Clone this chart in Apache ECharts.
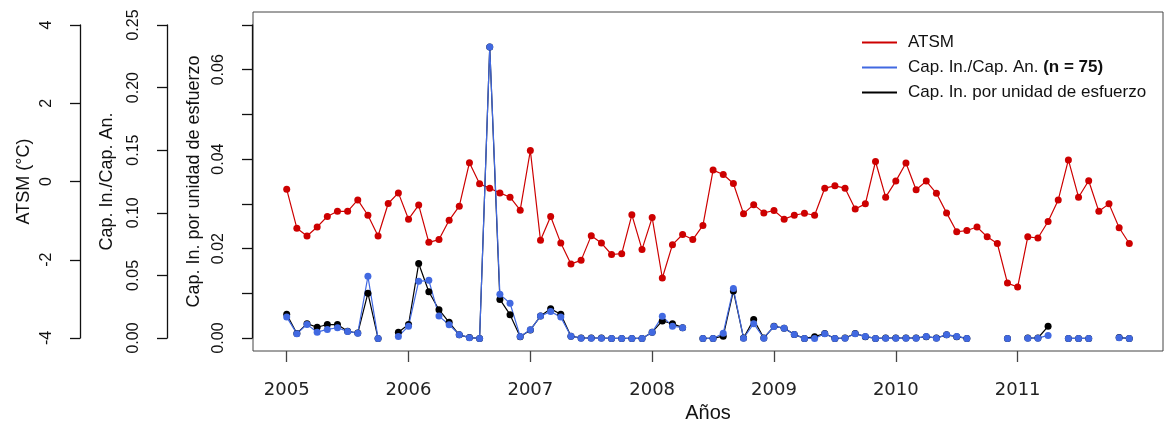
<!DOCTYPE html>
<html>
<head>
<meta charset="utf-8">
<script src="https://cdn.jsdelivr.net/npm/echarts@6/dist/echarts.min.js"></script>
<style>
  html, body { margin: 0; padding: 0; background: #fff; }
  #box { width: 1170px; height: 423px; }
</style>
</head>
<body>
<div id="box"></div>
<script>
// monthly series, Jan 2005 .. Dec 2011
var atsm = [
  -0.20, -1.19, -1.39, -1.16, -0.89, -0.76, -0.76, -0.47, -0.86, -1.39, -0.56, -0.29,
  -0.96, -0.60, -1.55, -1.48, -0.99, -0.63, 0.48, -0.06, -0.17, -0.29, -0.40, -0.73,
  0.79, -1.50, -0.89, -1.57, -2.10, -2.01, -1.38, -1.57, -1.86, -1.84, -0.85, -1.73,
  -0.92, -2.46, -1.61, -1.35, -1.48, -1.12, 0.29, 0.18, -0.05, -0.82, -0.59, -0.80,
  -0.74, -0.96, -0.86, -0.81, -0.86, -0.17, -0.11, -0.17, -0.70, -0.57, 0.51, -0.40,
  0.01, 0.47, -0.21, 0.01, -0.30, -0.80, -1.28, -1.25, -1.16, -1.41, -1.58, -2.59,
  -2.69, -1.41, -1.44, -1.02, -0.47, 0.55, -0.40, 0.02, -0.76, -0.57, -1.18, -1.58
];
var capRatio = [
  0.0170, 0.0038, 0.0112, 0.0050, 0.0072, 0.0085, 0.0056, 0.0042, 0.0495, 0, null, 0.0016,
  0.0098, 0.0455, 0.0463, 0.0178, 0.0109, 0.0030, 0.0006, 0, 0.2322, 0.0351, 0.0280, 0.0016,
  0.0069, 0.0178, 0.0214, 0.0170, 0.0018, 0.0002, 0.0002, 0.0002, 0, 0, 0, 0,
  0.0050, 0.0176, 0.0098, 0.0085, null, 0, 0, 0.0042, 0.0397, 0.0002, 0.0117, 0.0002,
  0.0096, 0.0082, 0.0032, 0, 0, 0.0038, 0, 0.0002, 0.0038, 0.0016, 0, 0.0002,
  0.0002, 0.0002, 0.0002, 0.0016, 0.0002, 0.0030, 0.0016, 0, null, null, null, 0,
  null, 0.0002, 0.0002, 0.0024, null, 0, 0, 0, null, null, 0.0006, 0
];
var capEffort = [
  0.0054, 0.0011, 0.0033, 0.0025, 0.0031, 0.0031, 0.0016, 0.0012, 0.0101, 0, null, 0.0014,
  0.0031, 0.0167, 0.0104, 0.0064, 0.0036, 0.0008, 0.0002, 0, 0.0650, 0.0087, 0.0053, 0.0004,
  0.0019, 0.0050, 0.0066, 0.0054, 0.0005, 0.0001, 0.0001, 0.0001, 0, 0, 0, 0,
  0.0014, 0.0039, 0.0033, 0.0024, null, 0, 0, 0.0005, 0.0106, 0.0001, 0.0042, 0.0001,
  0.0027, 0.0023, 0.0009, 0, 0.0004, 0.0011, 0, 0.0001, 0.0011, 0.0004, 0, 0.0001,
  0.0001, 0.0001, 0.0001, 0.0004, 0.0001, 0.0008, 0.0004, 0, null, null, null, 0,
  null, 0.0001, 0.0001, 0.0027, null, 0, 0, 0, null, null, 0.0002, 0
];
var yearTicks = [2005, 2006, 2007, 2008, 2009, 2010, 2011];
var effortLabels = [0, 0.02, 0.04, 0.06];
var names = ['ATSM', 'Cap. In./Cap. An.', 'Cap. In. por unidad de esfuerzo'];

function pairs(arr) {
  return arr.map(function (v, i) { return [2005 + i / 12, v]; });
}

var FONT = 'Liberation Sans, Arial, sans-serif';

// R style left axis drawn in its own thin grid
function sideAxis(grid, min, max, step, name, gap, fmt, labelVals) {
  return {
    type: 'value', gridIndex: grid, position: 'left',
    min: min, max: max, interval: step,
    axisLine: { show: true, onZero: false, lineStyle: { color: '#111', width: 1.3 } },
    axisTick: { show: true, length: 10, lineStyle: { color: '#111', width: 1.3 } },
    axisLabel: {
      rotate: 90, fontSize: 16, fontFamily: FONT, color: '#111', margin: 25,
      customValues: labelVals, formatter: fmt
    },
    splitLine: { show: false },
    name: name, nameLocation: 'middle', nameGap: gap,
    nameTextStyle: { fontSize: 18, fontFamily: FONT, color: '#111' }
  };
}

var myChart = echarts.init(document.getElementById('box'), null, { renderer: 'canvas' });

var option = {
  animation: false,
  backgroundColor: '#fff',
  grid: [
    { left: 253, right: 7, top: 12, height: 339, outerBoundsMode: 'none', show: true, borderColor: '#444', borderWidth: 1, backgroundColor: 'transparent' },
    { left: 80, width: 10, top: 25, height: 313, outerBoundsMode: 'none' },
    { left: 167, width: 10, top: 25, height: 313, outerBoundsMode: 'none' },
    { left: 252, width: 10, top: 25, height: 313, outerBoundsMode: 'none' }
  ],
  legend: {
    orient: 'vertical', left: 857, top: 29,
    data: names,
    icon: 'rect', itemWidth: 35, itemHeight: 2, itemGap: 8,
    textStyle: {
      fontSize: 17, fontFamily: FONT, color: '#111', padding: [0, 0, 0, 6],
      rich: { b: { fontSize: 17, fontFamily: FONT, fontWeight: 'bold', color: '#111' } }
    },
    formatter: function (n) {
      return n === names[1] ? n + ' {b|(n = 75)}' : n;
    }
  },
  xAxis: [
    {
      type: 'value', gridIndex: 0, min: 2004.7233, max: 2012.1933, position: 'bottom',
      axisLine: { show: false, onZero: false },
      axisTick: { show: true, length: 11, customValues: yearTicks, lineStyle: { color: '#444', width: 1.3 } },
      axisLabel: {
        customValues: yearTicks, fontSize: 18, fontFamily: 'DejaVu Sans, sans-serif',
        color: '#222', margin: 30, formatter: function (v) { return String(Math.round(v)); }
      },
      splitLine: { show: false },
      name: 'Años', nameLocation: 'middle', nameGap: 49,
      nameTextStyle: { fontSize: 20, fontFamily: FONT, color: '#111' }
    },
    { type: 'value', gridIndex: 1, show: false },
    { type: 'value', gridIndex: 2, show: false },
    { type: 'value', gridIndex: 3, show: false }
  ],
  yAxis: [
    { type: 'value', gridIndex: 0, min: -4.32, max: 4.32, show: false, splitLine: { show: false } },
    { type: 'value', gridIndex: 0, min: -0.01, max: 0.26, show: false, splitLine: { show: false } },
    { type: 'value', gridIndex: 0, min: -0.0028, max: 0.0728, show: false, splitLine: { show: false } },
    sideAxis(1, -4, 4, 2, 'ATSM (°C)', 47, function (v) { return String(v); }),
    sideAxis(2, 0, 0.25, 0.05, 'Cap. In./Cap. An.', 51, function (v) { return v.toFixed(2); }),
    sideAxis(3, 0, 0.07, 0.01, 'Cap. In. por unidad de esfuerzo', 49, function (v) { return v.toFixed(2); }, effortLabels)
  ],
  series: [
    {
      name: names[0], type: 'line', xAxisIndex: 0, yAxisIndex: 0,
      data: pairs(atsm), symbol: 'circle', symbolSize: 7,
      itemStyle: { color: '#CD0000' }, lineStyle: { color: '#CD0000', width: 1.2 }
    },
    {
      name: names[2], type: 'line', xAxisIndex: 0, yAxisIndex: 2,
      data: pairs(capEffort), symbol: 'circle', symbolSize: 7,
      itemStyle: { color: '#000' }, lineStyle: { color: '#000', width: 1.2 }
    },
    {
      name: names[1], type: 'line', xAxisIndex: 0, yAxisIndex: 1,
      data: pairs(capRatio), symbol: 'circle', symbolSize: 7,
      itemStyle: { color: '#4169E1' }, lineStyle: { color: '#4169E1', width: 1.2 }
    }
  ]
};

myChart.setOption(option);
</script>
</body>
</html>
